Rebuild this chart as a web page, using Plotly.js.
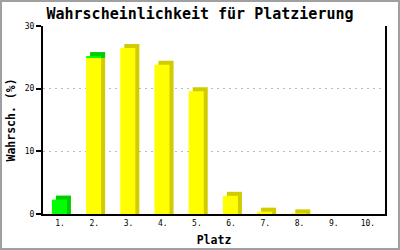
<!DOCTYPE html>
<html>
<head>
<meta charset="utf-8">
<script src="https://cdn.plot.ly/plotly-3.0.1.min.js"></script>
<style>
html,body{margin:0;padding:0;background:#fff;}
#wrap{position:relative;width:400px;height:250px;}
#chart{width:400px;height:250px;}
#frame{position:absolute;left:0;top:0;width:400px;height:250px;box-sizing:border-box;border:2px solid #a0a0a0;pointer-events:none;}
</style>
</head>
<body>
<div id="wrap"><div id="chart"></div><div id="frame"></div></div>
<script>
const categories = ['1.', '2.', '3.', '4.', '5.', '6.', '7.', '8.', '9.', '10.'];
const yellowValues = [0, 24.9, 26.5, 23.8, 19.6, 2.9, 0.37, 0.1, 0, 0];
const greenValues = [2.3, 0.3, 0, 0, 0, 0, 0, 0, 0, 0];
const yTicks = [0, 10, 20, 30];

// 3D depth (style constants)
const DX = 0.117;   // category units (~4px)
const DY = 0.64;    // percent units (~4px)
const W = 0.44;
const OFF = -0.24;

const darkYellowH = categories.map((c, i) => yellowValues[i] > 0 ? (greenValues[i] > 0 ? yellowValues[i] : yellowValues[i] + DY) : 0);
const darkGreenBase = categories.map((c, i) => yellowValues[i]);
const darkGreenH = categories.map((c, i) => greenValues[i] > 0 ? greenValues[i] + DY : 0);

const common = {type: 'bar', x: categories, width: W, hoverinfo: 'skip'};
const traces = [
  Object.assign({}, common, {y: darkYellowH, base: 0, offset: OFF + DX, marker: {color: '#d0cc00', line: {width: 0}}}),
  Object.assign({}, common, {y: darkGreenH, base: darkGreenBase, offset: OFF + DX, marker: {color: '#00cc00', line: {width: 0}}}),
  Object.assign({}, common, {y: yellowValues, base: 0, offset: OFF, marker: {color: '#ffff00', line: {width: 0}}}),
  Object.assign({}, common, {y: greenValues, base: yellowValues, offset: OFF, marker: {color: '#00ff00', line: {width: 0}}})
];

const mono = 'DejaVu Sans Mono, monospace';
const layout = {
  width: 400, height: 250,
  margin: {l: 43, r: 15, t: 26, b: 36},
  paper_bgcolor: '#ffffff', plot_bgcolor: '#ffffff',
  showlegend: false,
  barmode: 'overlay',
  title: {text: '<b>Wahrscheinlichkeit für Platzierung</b>', font: {family: mono, size: 15, color: '#000'}, x: 0.5, xanchor: 'center', y: 0.947, yanchor: 'middle'},
  xaxis: {
    type: 'category', categoryorder: 'array', categoryarray: categories,
    range: [-0.5, 9.5], showgrid: false, zeroline: false,
    showline: true, linecolor: '#000', linewidth: 2, ticks: '',
    tickfont: {family: mono, size: 8, color: '#000'},
    title: {text: '<b>Platz</b>', font: {family: mono, size: 11.5, color: '#000'}, standoff: 9}
  },
  yaxis: {
    range: [0, 30], tickvals: yTicks, ticktext: yTicks.map(String),
    showgrid: true, gridcolor: '#bbbbbb', griddash: '2px,4px', gridwidth: 1,
    zeroline: false, showline: true, linecolor: '#000', linewidth: 2, mirror: true,
    ticks: 'outside', ticklen: 5, tickcolor: '#000', tickwidth: 2,
    tickfont: {family: mono, size: 8, color: '#000'},
    title: {text: '<b>Wahrsch. (%)</b>', font: {family: mono, size: 11.5, color: '#000'}, standoff: 7}
  }
};

Plotly.newPlot('chart', traces, layout, {staticPlot: true, displayModeBar: false});
</script>
</body>
</html>
